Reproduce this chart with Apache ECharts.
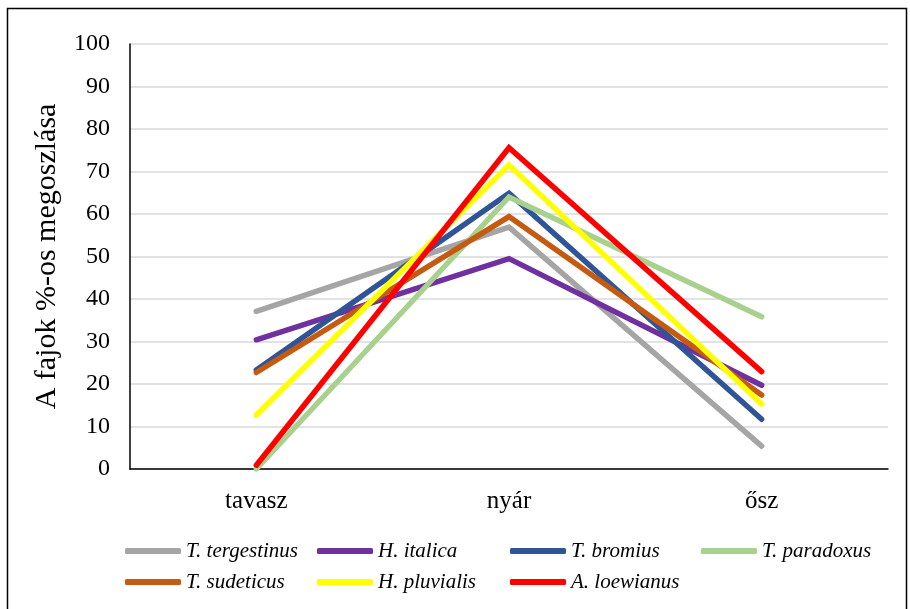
<!DOCTYPE html>
<html>
<head>
<meta charset="utf-8">
<script src="https://cdn.jsdelivr.net/npm/echarts@6/dist/echarts.min.js"></script>
<style>
html,body{margin:0;padding:0;background:#fff;}
#chart{width:910px;height:609px;}
</style>
</head>
<body>
<div id="chart"></div>
<script>
const categories = ['tavasz', 'nyár', 'ősz'];
const seriesNames = ['T. tergestinus', 'H. italica', 'T. bromius', 'T. paradoxus', 'T. sudeticus', 'H. pluvialis', 'A. loewianus'];
const tTergestinus = [37.1, 56.9, 5.4];
const hItalica = [30.4, 49.5, 19.7];
const tBromius = [23.3, 64.9, 11.7];
const tParadoxus = [0, 64.0, 35.8];
const tSudeticus = [22.7, 59.4, 17.4];
const hPluvialis = [12.7, 71.5, 15.3];
const aLoewianus = [0.9, 75.6, 22.9];
const seriesValues = [tTergestinus, hItalica, tBromius, tParadoxus, tSudeticus, hPluvialis, aLoewianus];
const colors = ['#a5a5a5', '#7030a0', '#2f5597', '#a9d18e', '#c55a11', '#ffff00', '#ff0000'];
const yTickMin = 0, yTickMax = 100, yTickStep = 10;
const yAxisTitle = 'A fajok %-os megoszlása';

const serif = '"Liberation Serif", "Times New Roman", serif';
const chart = echarts.init(document.getElementById('chart'));

const legendCols = [[0, 4], [1, 5], [2, 6], [3]];
const legendLefts = [125, 317, 510, 701];

const option = {
  animation: false,
  backgroundColor: '#fff',
  grid: { left: 130, right: 22, top: 44, bottom: 140, containLabel: false },
  xAxis: {
    type: 'category',
    data: categories,
    boundaryGap: true,
    axisLine: { lineStyle: { color: '#000', width: 1.5 } },
    axisTick: { show: false },
    axisLabel: { color: '#000', fontFamily: serif, fontSize: 25, margin: 20 }
  },
  yAxis: {
    type: 'value',
    min: yTickMin, max: yTickMax, interval: yTickStep,
    name: yAxisTitle,
    nameLocation: 'middle',
    nameGap: 68,
    nameTextStyle: { color: '#000', fontFamily: serif, fontSize: 30 },
    axisLine: { show: true, lineStyle: { color: '#000', width: 1.5 } },
    axisTick: { show: false },
    axisLabel: { color: '#000', fontFamily: serif, fontSize: 24, margin: 20 },
    splitLine: { lineStyle: { color: '#d9d9d9', width: 1.5 } }
  },
  legend: legendCols.map((col, i) => ({
    orient: 'vertical',
    left: legendLefts[i],
    top: 539,
    icon: 'roundRect',
    itemWidth: 56,
    itemHeight: 6,
    itemGap: 7,
    padding: 0,
    data: col.map(k => seriesNames[k]),
    textStyle: { color: '#000', fontFamily: serif, fontStyle: 'italic', fontSize: 21, lineHeight: 24 }
  })),
  series: seriesNames.map((name, i) => ({
    name: name,
    type: 'line',
    data: seriesValues[i],
    symbol: 'none',
    color: colors[i],
    itemStyle: { color: colors[i] },
    lineStyle: { color: colors[i], width: 5.5, cap: 'round', join: 'miter' },
    z: 2 + i
  })),
  graphic: [{
    type: 'rect',
    shape: { x: 7.5, y: 8.5, width: 899, height: 620 },
    style: { fill: 'none', stroke: '#000', lineWidth: 1.5 },
    silent: true
  }]
};
chart.setOption(option);
</script>
</body>
</html>
